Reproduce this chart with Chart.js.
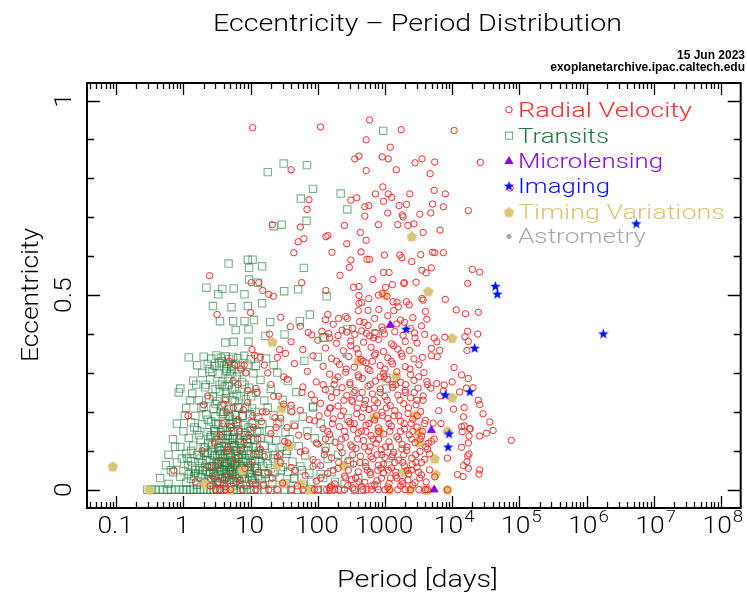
<!DOCTYPE html>
<html><head><meta charset="utf-8">
<script src="https://cdn.jsdelivr.net/npm/chart.js@4.4.0/dist/chart.umd.min.js"></script>
<style>html,body{margin:0;padding:0;background:#fff}canvas{display:block}</style>
</head><body>
<canvas id="c" width="747" height="597"></canvas>
<script>
// ---------- DATA (period [days], eccentricity) ----------
const seriesNames = ['Radial Velocity','Transits','Microlensing','Imaging','Timing Variations','Astrometry'];
const xTickValues = [0.1,1,10,100,1000,1e4,1e5,1e6,1e7,1e8];
const xTickLabels = ['0.1','1','10','100','1000','10^4','10^5','10^6','10^7','10^8'];
const yTickValues = [0,0.5,1];
const yTickLabels = ['0','0.5','1'];

const rvUpper = [[110,.932],[590,.95],[1740,.925],[10700,.923],[10.7,.93],[525,.899],[1200,.88],[355,.85],[410,.857],[910,.855],[1120,.85],[2800,.84],[3550,.85],[5500,.842],[26300,.841],[525,.82],[40,.822],[1480,.822],[4700,.812],[930,.778],[73000,.775],[720,.76],[1120,.76],[1260,.751],[2340,.76],[5400,.769],[7900,.76],[74,.745],[310,.744],[380,.75],[950,.741],[1620,.73],[2090,.733],[5100,.734],[7400,.727],[500,.727],[575,.73],[69,.72],[1100,.711],[1820,.706],[1860,.701],[3300,.708],[4800,.711],[17400,.717],[500,.703],[21,.681],[55,.675],[250,.679],[800,.681],[1550,.681],[2190,.679],[2700,.683],[3700,.661],[6600,.667],[132,.65],[141,.653],[62,.645],[51,.637],[430,.661],[270,.632],[525,.641],[44,.609],[980,.603],[1660,.603],[1780,.596],[3400,.604],[5100,.61],[5500,.609],[7400,.609],[162,.61],[440,.611],[540,.592],[590,.592],[2500,.586],[310,.59],[4900,.57],[950,.558],[1150,.558],[214,.551],[295,.571],[2.45,.55],[660,.54],[1900,.53],[1950,.532],[2900,.533],[4100,.557],[3550,.564],[20000,.566],[25700,.559],[340,.52],[410,.522],[1020,.52],[1290,.527],[17000,.53],[10.2,.532],[13.2,.532],[57.5,.532],[15.1,.512],[132,.512],[18.6,.502],[21.9,.497],[410,.499],[575,.491],[800,.5],[910,.504],[1070,.497],[1320,.483],[1510,.482],[2090,.483],[2290,.475],[3550,.491],[3700,.487],[7900,.489],[410,.479],[450,.481],[204,.44],[275,.44],[400,.46],[560,.461],[810,.463],[1350,.46],[1580,.47],[4000,.458],[11500,.462],[15800,.452],[24500,.456],[141,.45],[3.16,.45],[10,.455]];

const rvOuter = [[17000,.407],[24000,.40],[15500,.393],[17400,.381],[16600,.358],[5400,.39],[5900,.38],[7800,.392],[4900,.363],[6500,.358],[4900,.344],[6000,.342],[10700,.314],[13800,.295],[17400,.286],[10000,.277],[7600,.269],[5900,.273],[4800,.261],[16200,.261],[20400,.262],[12900,.251],[7400,.254],[6600,.241],[24500,.23],[25700,.219],[10500,.207],[6300,.203],[15100,.211],[28800,.195],[14800,.187],[36300,.174],[5200,.171],[6800,.17],[13800,.162],[15100,.164],[18200,.156],[18600,.157],[14100,.149],[40700,.152],[32400,.145],[25700,.138],[17800,.138],[75900,.127],[5400,.13],[4900,.124],[4400,.119],[17400,.12],[13800,.109],[4300,.104],[4600,.092],[8500,.081],[17800,.092],[17000,.087],[16600,.072],[14800,.062],[17400,.055],[4600,.051],[25700,.051],[25100,.04],[12000,.039],[14500,.034],[5500,.033],[8500,0],[4300,0]];

const rvWarm = [[4.8,.33],[5.8,.32],[7.2,.31],[8.5,.30],[10.5,.36],[11.5,.345],[14,.34],[16,.32],[27,.36],[33,.35],[19,.40],[39,.419],[6.5,.27],[9,.255],[12.5,.25],[20,.27],[26,.24],[31,.22],[4.2,.23],[5.5,.21],[7.8,.205],[10.8,.19],[14.5,.175],[17,.2],[23,.185],[35,.16],[3.8,.17],[5.1,.16],[6.9,.15],[9.4,.14],[12.8,.13],[2.9,.12],[4.6,.11],[7,.1],[11,.09],[16,.085],[28,.07],[3.6,.075],[5.3,.065],[8.2,.055],[13,.045],[21,.03],[2.7,.035],[4.1,.025],[6.2,.02],[9.7,.015],[15.5,.012],[1.9,.1],[2.3,.06],[1.5,.02],[1.17,.19],[0.72,.05],[2.0,.218],[4.4,.198],[2.3,.241]];

const rvCircular = [[18.6,0],[41,0],[89,0],[102,0],[135,0],[178,0],[204,0],[470,0],[540,0],[630,0],[800,0],[1170,0],[1550,0],[2400,0],[4000,0],[3.0,0],[3.5,0],[4.2,0],[5,0],[7.5,0],[12,0],[25,0],[60,0],[150,0],[250,0],[350,0],[1000,0],[2000,0],[3200,0]];

const rvCore = [[28,.443],[130,.437],[260,.445],[420,.432],[700,.44],[1100,.447],[1700,.436],[2600,.442],[4200,.438],
[55,.42],[170,.425],[330,.415],[560,.422],[900,.418],[1500,.426],[2400,.414],[3500,.421],
[72,.404],[81,.398],[115,.407],[145,.401],[200,.396],[270,.405],[355,.399],[450,.408],[530,.402],[590,.395],[710,.404],[980,.4],[1400,.406],[1860,.397],[2750,.403],[3900,.399],
[40,.38],[100,.384],[190,.376],[310,.382],[480,.379],[800,.386],[1250,.375],[2000,.381],[3000,.377],
[60,.36],[130,.364],[240,.357],[380,.362],[620,.366],[950,.355],[1550,.361],[2300,.358],
[25,.34],[85,.344],[160,.337],[290,.342],[440,.335],[700,.346],[1100,.339],[1800,.343],[2700,.336],
[8,.32],[45,.324],[120,.317],[210,.322],[350,.315],[520,.326],[850,.319],[1300,.323],[2000,.316],[3200,.321],
[18,.3],[70,.304],[150,.297],[260,.302],[400,.295],[600,.306],[950,.299],[1500,.303],[2400,.296],[3800,.301],
[5.5,.28],[35,.284],[95,.277],[180,.282],[300,.275],[460,.286],[720,.279],[1100,.283],[1700,.276],[2700,.281],[4200,.278],
[12,.26],[60,.264],[130,.257],[230,.262],[360,.255],[560,.266],[850,.259],[1300,.263],[2000,.256],[3100,.261],
[22,.24],[80,.244],[160,.237],[270,.242],[420,.235],[650,.246],[1000,.239],[1550,.243],[2400,.236],[3700,.241],
[4,.22],[9,.224],[40,.217],[110,.222],[200,.215],[330,.226],[500,.219],[780,.223],[1200,.216],[1900,.221],[2900,.218],
[15,.2],[55,.204],[140,.197],[240,.202],[380,.195],[580,.206],[900,.199],[1400,.203],[2200,.196],[3400,.201],
[6.5,.18],[28,.184],[90,.177],[170,.182],[290,.175],[450,.186],[700,.179],[1100,.183],[1700,.176],[2600,.181],[4000,.178],
[11,.16],[45,.164],[120,.157],[210,.162],[340,.155],[520,.166],[800,.159],[1250,.163],[1950,.156],[3000,.161],
[3.5,.14],[20,.144],[70,.137],[150,.142],[260,.135],[400,.146],[620,.139],[950,.143],[1500,.136],[2300,.141],[3500,.138],
[8,.12],[32,.124],[100,.117],[180,.122],[310,.115],[480,.126],[740,.119],[1150,.123],[1800,.116],[2800,.121],
[4.5,.1],[14,.104],[55,.097],[130,.102],[230,.095],[370,.106],[570,.099],[880,.103],[1350,.096],[2100,.101],[3300,.098],
[6,.08],[25,.084],[85,.077],[160,.082],[280,.075],[430,.086],[660,.079],[1000,.083],[1600,.076],[2500,.081],[3900,.078],
[3,.06],[10,.064],[40,.057],[110,.062],[200,.055],[340,.066],[520,.059],[800,.063],[1250,.056],[1950,.061],[3000,.058],
[5,.04],[18,.044],[65,.037],[140,.042],[250,.035],[400,.046],[610,.039],[950,.043],[1450,.036],[2250,.041],[3500,.038],
[3.3,.02],[7,.024],[30,.017],[95,.022],[180,.015],[320,.026],[500,.019],[760,.023],[1150,.016],[1800,.021],[2800,.018],
[2.5,.01],[4.2,.008],[12,.012],[50,.01],[150,.006],[280,.011],[450,.009],[700,.013],[1100,.007],[1700,.01],[2600,.012],
[120,.27],[190,.25],[320,.23],[480,.21],[750,.19],[1150,.17],[1700,.15],[2500,.13],[90,.23],[150,.21],[220,.19],[350,.17],[520,.15],[800,.13],[1200,.11],[1900,.09],[2900,.07],[105,.19],[165,.17],[250,.15],[390,.13],[600,.11],[900,.09],[1400,.07],[2150,.05],[3300,.03],[200,.29],[300,.27],[460,.25],[700,.23],[1050,.21],[1600,.19],[2450,.17],[3600,.15],[130,.13],[215,.11],[330,.09],[510,.07],[780,.05],[1200,.03],[1850,.015],[170,.05],[260,.03],[410,.02],[620,.085],[950,.065],[1450,.045],[2200,.025],[560,.31],[850,.29],[1300,.27],[2000,.25],[3000,.23],[400,.35],[650,.33],[1000,.31]];

const rvDense = [[110,.03],[125,.09],[140,.15],[155,.21],[175,.27],[190,.33],[205,.07],[225,.13],[245,.23],[265,.31],[285,.05],[305,.17],[325,.11],[345,.25],[365,.03],[385,.21],[405,.29],[425,.07],[445,.15],[470,.33],[495,.11],[515,.23],[545,.05],[575,.17],[605,.27],[635,.01],[665,.13],[695,.21],[730,.35],[765,.09],[805,.15],[845,.25],[885,.03],[925,.19],[970,.29],[1020,.11],[1070,.23],[1120,.05],[1180,.15],[1240,.33],[1300,.09],[1370,.19],[1440,.27],[1510,.03],[1590,.13],[1670,.23],[1750,.35],[1840,.07],[1930,.17],[2030,.27],[2130,.11],[2240,.21],[2350,.31],[2470,.05],[2600,.15],[2730,.25],[2870,.09],[3020,.19],[3170,.29],[3330,.13],[3500,.07],[3680,.23],[3870,.17],[4070,.11],[4280,.27],[95,.12],[85,.06],[75,.18],[65,.1],[58,.25],[52,.14],[46,.05],[41,.2],[36,.12],[31,.29],[27,.09],[24,.16],[150,.39],[230,.41],[310,.37],[490,.43],[680,.39],[940,.41],[1350,.37],[1950,.43],[2800,.39],[3600,.34],[160,.01],[330,.005],[600,.045],[870,.055],[1260,.085],[1780,.105],[2550,.065],[3150,.045],[4100,.02]];

const trCircular = [[0.29,0],[0.33,0],[0.38,0],[0.44,0],[0.5,0],[0.58,0],[0.66,0],[0.76,0],[0.87,0],[1,0],[1.12,0],[1.26,0],[1.41,0],[1.58,0],[1.78,0],[2,0],[2.24,0],[2.5,0],[2.8,0],[3.2,0],[3.5,0],[4,0],[4.5,0],[5,0],[5.6,0],[6.3,0],[7.1,0],[8,0],[8.9,0],[10,0],[11.2,0],[12.6,0],[16,0],[20,0],[25,0],[32,0],[40,0],[50,0],[63,0],[79,0],[100,0],[126,0],[158,0],[224,0],[355,0],[450,0],[760,.01],[4000,0]];

const trUpper = [[940,.922],[31,.838],[69,.834],[18,.816],[85,.773],[56,.748],[219,.761],[275,.72],[68,.691],[29,.681],[22,.677],[62,.57],[135,.497],[76,.45],[275,.412],[725,.40],[126,.391],[100,.341],[63,.331],[151,.256],[85,.211],[282,.183],[1050,.288],[1050,.26],[1120,.062],
[4.7,.581],[9.1,.591],[10.7,.591],[9.5,.57],[14.8,.574],[2.2,.519],[3.8,.516],[3.3,.502],[5.6,.517],[8.1,.502],[9.5,.54],[12.9,.532],[31.6,.51],[51,.515],[2.75,.472],[5.2,.469],[9.1,.472],[14.8,.479],[3.5,.433],[5.5,.433],[8.1,.433],[11.2,.436],[19.5,.431],[54,.433],[6,.41],[9.3,.412],[4.2,.378],[5.6,.38],[9.3,.38],[16.6,.395],[32,.399],[120,.391]];

const trCore = [[1.2,.34],[2.0,.342],[2.6,.337],[3.1,.345],[3.6,.339],[4.2,.343],[4.8,.336],[5.5,.341],[6.5,.338],[8,.344],[10,.335],[13,.34],[17,.337],
[1.6,.32],[2.3,.323],[2.9,.318],[3.4,.325],[4.0,.317],[4.5,.322],[5.2,.319],[6.0,.324],[7.2,.316],[9,.321],[12,.318],[22,.32],
[1.9,.30],[2.7,.303],[3.3,.298],[4.4,.305],[5.0,.297],[6.8,.302],[11,.299],[25,.301],
[1.4,.28],[2.5,.283],[3.8,.278],[4.6,.285],[7.5,.277],[14,.282],[36,.279],
[0.9,.26],[2.1,.263],[3.0,.258],[4.1,.265],[5.3,.257],[9.5,.262],[20,.259],
[0.85,.25],[1.35,.247],[3.5,.252],[6.2,.245],[12,.249],[48,.251],
[1.7,.23],[2.4,.233],[3.2,.228],[4.3,.235],[5.8,.227],[8.5,.232],[16,.229],[30,.231],
[1.1,.21],[2.0,.213],[2.8,.208],[3.7,.215],[4.7,.207],[6.5,.212],[10.5,.209],[18,.211],[40,.206],[85,.214],
[1.5,.19],[2.2,.193],[3.0,.188],[3.9,.195],[4.9,.187],[6.0,.192],[7.5,.189],[9.8,.194],[13,.186],[22,.191],[60,.188],
[0.8,.17],[1.3,.173],[1.9,.168],[2.6,.175],[3.3,.167],[4.1,.172],[5.0,.169],[6.1,.174],[7.8,.166],[11,.171],[15,.168],[27,.173],[45,.167],[110,.17],
[1.0,.15],[1.6,.153],[2.3,.148],[2.9,.155],[3.6,.147],[4.4,.152],[5.4,.149],[6.6,.154],[8.3,.146],[10,.151],[12.5,.148],[19,.153],[33,.147],[70,.15],
[0.7,.13],[1.2,.133],[1.8,.128],[2.5,.135],[3.1,.127],[3.8,.132],[4.6,.129],[5.5,.134],[6.8,.126],[8.8,.131],[11.5,.128],[14,.133],[24,.127],[38,.13],[90,.132],[150,.128],
[0.9,.11],[1.4,.113],[2.0,.108],[2.7,.115],[3.3,.107],[4.0,.112],[4.8,.109],[5.8,.114],[7.1,.106],[9.2,.111],[12,.108],[16,.113],[21,.107],[29,.11],[52,.112],[130,.108],
[0.6,.09],[1.1,.093],[1.7,.088],[2.3,.095],[2.9,.087],[3.5,.092],[4.2,.089],[5.0,.094],[6.0,.086],[7.4,.091],[9.6,.088],[13,.093],[17,.087],[23,.09],[34,.092],[65,.088],[200,.09],
[0.8,.07],[1.3,.073],[1.9,.068],[2.5,.075],[3.1,.067],[3.7,.072],[4.4,.069],[5.2,.074],[6.3,.066],[7.8,.071],[10,.068],[13.5,.073],[18,.067],[26,.07],[42,.072],[95,.068],[300,.07],
[0.55,.063],[1.17,.063],[2.1,.058],[2.7,.061],[3.4,.056],[4.1,.06],[4.9,.057],[5.9,.062],[7.2,.055],[9,.059],[11.5,.056],[15,.061],[20,.055],[30,.058],[55,.06],
[0.7,.045],[1.0,.048],[1.5,.043],[2.2,.047],[2.8,.042],[3.5,.046],[4.3,.044],[5.1,.049],[6.1,.041],[7.5,.045],[9.5,.043],[12.5,.047],[16.5,.042],[23,.045],[36,.046],[75,.043],[160,.045],
[0.45,.03],[0.9,.033],[1.3,.028],[1.8,.032],[2.4,.027],[3.0,.031],[3.7,.029],[4.5,.034],[5.4,.026],[6.6,.03],[8.1,.028],[10.5,.032],[14,.027],[19,.03],[27,.031],[45,.028],[120,.03],[400,.03],
[0.6,.015],[1.1,.018],[1.6,.013],[2.1,.017],[2.6,.012],[3.3,.016],[4.0,.014],[4.8,.019],[5.7,.011],[7.0,.015],[8.6,.013],[11,.017],[15,.012],[21,.015],[33,.016],[60,.013],[250,.015]];

const trDense = [[1.5,.05],[1.8,.08],[2.1,.11],[2.4,.04],[2.6,.14],[2.9,.06],[3.2,.09],[3.4,.12],[3.7,.05],[3.9,.16],[4.2,.03],[4.5,.1],[4.7,.19],[5.1,.07],[5.4,.13],[5.7,.02],[6.0,.1],[6.4,.17],[6.9,.05],[7.3,.12],[8.2,.08],[8.7,.21],[9.9,.04],[10.8,.11],[12.3,.06],[13.5,.15],[14.8,.09],[1.3,.1],[1.7,.14],[2.0,.02],[2.3,.18],[2.7,.09],[3.0,.22],[3.3,.04],[3.6,.2],[3.9,.08],[4.3,.25],[4.6,.14],[4.9,.05],[5.3,.23],[5.6,.11],[6.2,.29],[6.7,.08],[7.6,.19],[8.1,.27],[9.3,.16],[10.2,.24],[11.6,.03],[1.2,.04],[1.45,.16],[1.85,.21],[2.15,.27],[2.45,.31],[2.75,.24],[3.05,.17],[3.45,.27],[3.75,.33],[4.05,.2],[4.35,.31],[4.75,.27],[5.15,.31],[5.45,.18],[5.85,.26],[6.55,.21],[7.1,.24],[8.4,.14],[9.1,.07],[0.95,.08],[1.05,.19],[0.75,.11],[0.65,.05],[1.25,.23],[1.55,.27],[1.65,.04],[2.55,.06],[2.85,.15],[3.15,.02],[3.55,.1],[3.85,.14],[4.15,.07],[4.55,.04],[4.95,.16],[5.25,.04],[5.95,.06],[6.35,.13],[7.4,.03],[7.9,.1],[8.9,.12],[10.5,.17],[11.8,.2],[13.2,.1],[16.5,.04],[18.5,.13],[22,.08],[25,.17],[28,.05],[35,.1],[44,.03],[58,.05],[80,.02],[110,.04],[140,.08],[180,.02],
[1.35,.06],[1.6,.09],[1.95,.05],[2.2,.075],[2.5,.045],[2.65,.1],[2.95,.035],[3.25,.065],[3.5,.02],[3.8,.085],[4.0,.05],[4.4,.065],[4.8,.025],[5.0,.085],[5.5,.045],[5.8,.07],[6.2,.035],[6.6,.09],[7.0,.06],[7.7,.04],[8.5,.075],[9.5,.055],[10.5,.025],[11.5,.075],[13,.035],[1.15,.08],[1.45,.035],[1.75,.055],[2.05,.095],[2.35,.12],[2.6,.025],[3.0,.14],[3.4,.07],[3.7,.11],[4.25,.12],[4.65,.09],[5.2,.12],[5.7,.15],[6.3,.1],[7.2,.14],[8.0,.05],[9.0,.1],[10,.13],[12,.09]];

const mlPoints = [[1200,.423],[4900,.153],[5400,0]];
const imPoints = [[2060,.412],[7900,.243],[18300,.251],[21600,.363],[44000,.522],[47000,.502],[9000,.143],[8700,.109],[1780000,.40],[5500000,.683]];
const ttvPoints = [[2500,.651],[990,.502],[4400,.51],[10000,.39],[400,.331],[1480,.292],[10000,.237],[680,.186],[2800,.192],[830,.151],[3150,.149],[8500,.151],[3240,.122],[5500,.08],[5700,.04],[240,.062],[1950,.046],[1170,0],[2350,0],[0.089,.06],[0.31,0],[2.1,.015],[4.9,0],[7.5,.05],[21,.38],[29,.21],[38,.113],[25,.062],[31,.016],[56,.015],[75,0],[4300,0],[8500,0]];
const astPoints = [[250,.345]];

// ---------- STYLE ----------
const colRV = '#ff2a2a', colTR = 'rgba(25,120,55,0.58)', colTRtext = '#1f7a3c', colML = '#8a00ff', colIM = '#0010ff', colTTV = '#d8c578', colAST = '#a8a8a8';

function starMarker(color, R){
  const s = Math.ceil(R*2+2), c = document.createElement('canvas'); c.width = c.height = s;
  const g = c.getContext('2d'); g.fillStyle = color; g.beginPath();
  for (let i=0;i<10;i++){ const r = i%2? R*0.42 : R; const a = -Math.PI/2 + i*Math.PI/5; g.lineTo(s/2 + r*Math.cos(a), s/2 + r*Math.sin(a)); }
  g.closePath(); g.fill(); return c;
}
function pentMarker(color, R){
  const s = Math.ceil(R*2+2), c = document.createElement('canvas'); c.width = c.height = s;
  const g = c.getContext('2d'); g.fillStyle = color; g.beginPath();
  for (let i=0;i<5;i++){ const a = -Math.PI/2 + i*2*Math.PI/5; g.lineTo(s/2 + R*Math.cos(a), s/2 + 0.5 + R*Math.sin(a)); }
  g.closePath(); g.fill(); return c;
}
const starImg = starMarker(colIM, 5.5), pentImg = pentMarker(colTTV, 5.5);

const toXY = pts => pts.map(p => ({x:p[0], y:p[1]}));
const datasets = [
  {label:seriesNames[0], data:toXY([...rvUpper,...rvOuter,...rvWarm,...rvCircular,...rvCore,...rvDense]), pointStyle:'circle', pointRadius:3.2, borderColor:colRV, backgroundColor:'rgba(0,0,0,0)', borderWidth:1, order:3},
  {label:seriesNames[1], data:toXY([...trCircular,...trUpper,...trCore,...trDense]), pointStyle:'rect', pointRadius:5.2, borderColor:colTR, backgroundColor:'rgba(0,0,0,0)', borderWidth:1.1, order:5},
  {label:seriesNames[2], data:toXY(mlPoints), pointStyle:'triangle', pointRadius:4.5, borderColor:colML, backgroundColor:colML, borderWidth:1, order:1},
  {label:seriesNames[3], data:toXY(imPoints), pointStyle:starImg, order:0},
  {label:seriesNames[4], data:toXY(ttvPoints), pointStyle:pentImg, order:4},
  {label:seriesNames[5], data:toXY(astPoints), pointStyle:'circle', pointRadius:2.6, borderColor:colAST, backgroundColor:colAST, borderWidth:0, order:2}
];
const legendColors = [colRV, colTRtext, colML, colIM, colTTV, colAST];

const FONT = 'Roboto, "Liberation Sans", Arial, sans-serif';
function txt(ctx, s, x, y, size, o){
  o = o || {};
  ctx.save();
  ctx.font = (o.bold ? 'bold ' : '300 ') + size + 'px ' + (o.bold ? '"Liberation Sans", Arial, sans-serif' : FONT);
  ctx.fillStyle = o.color || '#000';
  const w = ctx.measureText(s).width;
  const sx = o.width ? o.width / w : (o.sx || 1);
  ctx.translate(x, y);
  if (o.rot) ctx.rotate(o.rot);
  ctx.scale(sx, 1);
  ctx.textAlign = o.align || 'left';
  ctx.textBaseline = 'alphabetic';
  ctx.fillText(s, 0, 0);
  ctx.restore();
  return w*sx;
}

const deco = {
  id:'deco',
  afterDatasetsDraw(chart){
    const ctx = chart.ctx, a = chart.chartArea, xs = chart.scales.x, ys = chart.scales.y;
    ctx.save();
    ctx.strokeStyle = '#000'; ctx.lineWidth = 1.3;
    ctx.beginPath();
    for (let d=-2; d<=8; d++){
      for (let m=1; m<10; m++){
        const v = m*Math.pow(10,d);
        if (v < xs.min || v > xs.max) continue;
        const px = Math.round(xs.getPixelForValue(v)) + 0.5;
        const L = m===1 ? 12 : 6;
        ctx.moveTo(px, a.bottom); ctx.lineTo(px, a.bottom - L);
        ctx.moveTo(px, a.top); ctx.lineTo(px, a.top + L);
      }
    }
    for (let k=0; k<=10; k++){
      const v = k/10, py = Math.round(ys.getPixelForValue(v)) + 0.5;
      const L = (k%5===0) ? 13 : 7;
      ctx.moveTo(a.left, py); ctx.lineTo(a.left + L, py);
      ctx.moveTo(a.right, py); ctx.lineTo(a.right - L, py);
    }
    ctx.stroke();
    ctx.lineWidth = 2;
    ctx.strokeRect(a.left, a.top, a.right - a.left, a.bottom - a.top);
    ctx.restore();

    xTickValues.forEach((v,i) => {
      const px = xs.getPixelForValue(v), lab = xTickLabels[i];
      if (lab.includes('^')){
        const [b,e] = lab.split('^');
        ctx.save(); ctx.font = '300 24px ' + FONT;
        const wb = ctx.measureText(b).width*1.1; ctx.font = '300 17px ' + FONT;
        const we = ctx.measureText(e).width*1.1; ctx.restore();
        const x0 = px - (wb + we + 1)/2 + 2;
        txt(ctx, b, x0, 533, 24, {sx:1.1});
        txt(ctx, e, x0 + wb + 1, 522, 17, {sx:1.1});
      } else {
        txt(ctx, lab, px - 1, 533, 24, {align:'center', sx:1.1});
      }
    });
    yTickValues.forEach((v,i) => {
      const py = ys.getPixelForValue(v);
      txt(ctx, yTickLabels[i], 71, py, 24, {align:'center', rot:-Math.PI/2, sx:1.1});
    });
    txt(ctx, 'Period [days]', 417.5, 587, 23, {align:'center', width:161});
    txt(ctx, 'Eccentricity', 38, 295, 23, {align:'center', width:134, rot:-Math.PI/2});
    txt(ctx, 'Eccentricity \u2013 Period Distribution', 417.5, 31, 23, {align:'center', width:409});
    txt(ctx, '15 Jun 2023', 745, 59, 12, {align:'right', bold:true});
    txt(ctx, 'exoplanetarchive.ipac.caltech.edu', 745, 71, 12, {align:'right', bold:true});

    const base = [116.7,142.7,168.3,193.3,219,243.3], widths = [174,91,145,92,207,128];
    chart.data.datasets.forEach((d,i) => {
      const y = base[i];
      ctx.save();
      ctx.strokeStyle = d.borderColor || '#000';
      ctx.fillStyle = d.backgroundColor || '#000';
      ctx.lineWidth = d.borderWidth || 1;
      Chart.helpers.drawPoint(ctx, {pointStyle:d.pointStyle, radius: d.pointStyle==='rect'?5:(d.pointRadius||3.2), borderWidth:d.borderWidth||0, rotation:0}, 509, y - 7);
      ctx.restore();
      txt(ctx, d.label, 518, y, 21, {color:legendColors[i], width:widths[i]});
    });
  }
};

new Chart(document.getElementById('c').getContext('2d'), {
  type:'scatter',
  data:{datasets},
  options:{
    responsive:false, animation:false, events:[],
    layout:{padding:{top:83, right:2, left:0, bottom:0}},
    plugins:{legend:{display:false}, tooltip:{enabled:false}, title:{display:false}},
    scales:{
      x:{type:'logarithmic', min:0.0367, max:1.97e8, ticks:{display:false}, grid:{display:false}, border:{display:false}, afterFit(s){ s.height = 89; }},
      y:{type:'linear', min:-0.047, max:1.045, ticks:{display:false}, grid:{display:false}, border:{display:false}, afterFit(s){ s.width = 87; }}
    }
  },
  plugins:[deco]
});
</script>
</body></html>
